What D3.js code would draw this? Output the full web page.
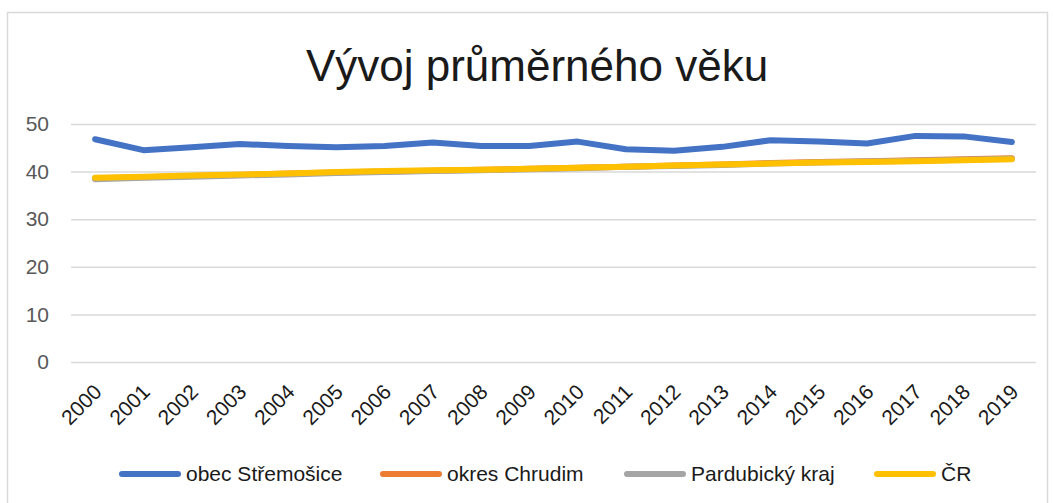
<!DOCTYPE html>
<html>
<head>
<meta charset="utf-8">
<script src="https://cdn.jsdelivr.net/npm/d3@7"></script>
<style>
  body { margin: 0; background: #fff; }
  svg { display: block; font-family: "Liberation Sans", Arial, sans-serif; }
</style>
</head>
<body>
<svg id="chart"></svg>
<script>
// data
var years = ["2000","2001","2002","2003","2004","2005","2006","2007","2008","2009",
             "2010","2011","2012","2013","2014","2015","2016","2017","2018","2019"];
var stremosice = [46.8, 44.5, 45.1, 45.8, 45.4, 45.1, 45.4, 46.1, 45.4, 45.4,
                  46.3, 44.7, 44.4, 45.2, 46.6, 46.3, 45.9, 47.5, 47.4, 46.2];
var chrudim    = [38.6, 38.8, 39.1, 39.3, 39.6, 39.8, 40.0, 40.2, 40.4, 40.6,
                  40.8, 41.0, 41.3, 41.5, 41.8, 42.0, 42.2, 42.4, 42.6, 42.8];
var pardubicky = [38.4, 38.7, 38.9, 39.2, 39.4, 39.7, 39.9, 40.1, 40.3, 40.5,
                  40.7, 41.0, 41.2, 41.4, 41.7, 41.9, 42.1, 42.3, 42.5, 42.7];
var cr         = [38.7, 38.9, 39.2, 39.4, 39.6, 39.9, 40.1, 40.3, 40.4, 40.6,
                  40.8, 41.0, 41.3, 41.5, 41.7, 41.9, 42.0, 42.2, 42.4, 42.6];
var yTicks = [0, 10, 20, 30, 40, 50];
var seriesNames = ["obec Střemošice", "okres Chrudim", "Pardubický kraj", "ČR"];
var seriesColors = ["#4472C4", "#ED7D31", "#A5A5A5", "#FFC000"];
var seriesValues = [stremosice, chrudim, pardubicky, cr];

var W = 1054, H = 503;
var plot = {left: 71, right: 1036, top: 124, bottom: 362};

var svg = d3.select("#chart").attr("width", W).attr("height", H);

// chart frame
svg.append("rect")
    .attr("x", 7.5).attr("y", 12.5)
    .attr("width", 1040).attr("height", 520)
    .attr("fill", "#fff")
    .attr("stroke", "#d9d9d9").attr("stroke-width", 1.5);

// title
svg.append("text")
    .attr("x", 537).attr("y", 81)
    .attr("text-anchor", "middle")
    .attr("font-size", 44)
    .attr("fill", "#1a1a1a")
    .text("Vývoj průměrného věku");

// scales
var x = d3.scalePoint().domain(years).range([plot.left, plot.right]).padding(0.5);
var y = d3.scaleLinear().domain([0, 50]).range([plot.bottom, plot.top]);

// gridlines + y labels
var yAxis = svg.append("g")
    .attr("transform", "translate(" + plot.left + ",0)")
    .call(d3.axisLeft(y).tickValues(yTicks).tickSize(-(plot.right - plot.left)).tickPadding(22));
yAxis.select(".domain").remove();
yAxis.selectAll(".tick line").attr("stroke", "#d9d9d9").attr("stroke-width", 1.5);
yAxis.selectAll(".tick text")
    .attr("font-size", 21)
    .attr("font-family", "Liberation Sans, Arial, sans-serif")
    .attr("fill", "#595959");

// x labels
var xAxis = svg.append("g")
    .attr("transform", "translate(0," + plot.bottom + ")")
    .call(d3.axisBottom(x).tickSize(0));
xAxis.select(".domain").remove();
xAxis.selectAll(".tick text")
    .attr("font-size", 21)
    .attr("font-family", "Liberation Sans, Arial, sans-serif")
    .attr("fill", "#1a1a1a")
    .attr("text-anchor", "end")
    .attr("dy", "0.35em")
    .attr("transform", "translate(0,24) rotate(-45)");

// lines
var line = d3.line()
    .x(function(d, i) { return x(years[i]); })
    .y(function(d) { return y(d); });

seriesValues.forEach(function(vals, k) {
  svg.append("path")
      .datum(vals)
      .attr("fill", "none")
      .attr("stroke", seriesColors[k])
      .attr("stroke-width", 6)
      .attr("stroke-linecap", "round")
      .attr("stroke-linejoin", "round")
      .attr("d", line);
});

// legend
var legendX = [122, 383, 627, 877];
var legend = svg.append("g");
seriesNames.forEach(function(name, k) {
  legend.append("line")
      .attr("x1", legendX[k]).attr("x2", legendX[k] + 56)
      .attr("y1", 474).attr("y2", 474)
      .attr("stroke", seriesColors[k])
      .attr("stroke-width", 6)
      .attr("stroke-linecap", "round");
  legend.append("text")
      .attr("x", legendX[k] + 64).attr("y", 474)
      .attr("dy", "0.35em")
      .attr("font-size", 21)
      .attr("fill", "#1a1a1a")
      .text(name);
});
</script>
</body>
</html>
